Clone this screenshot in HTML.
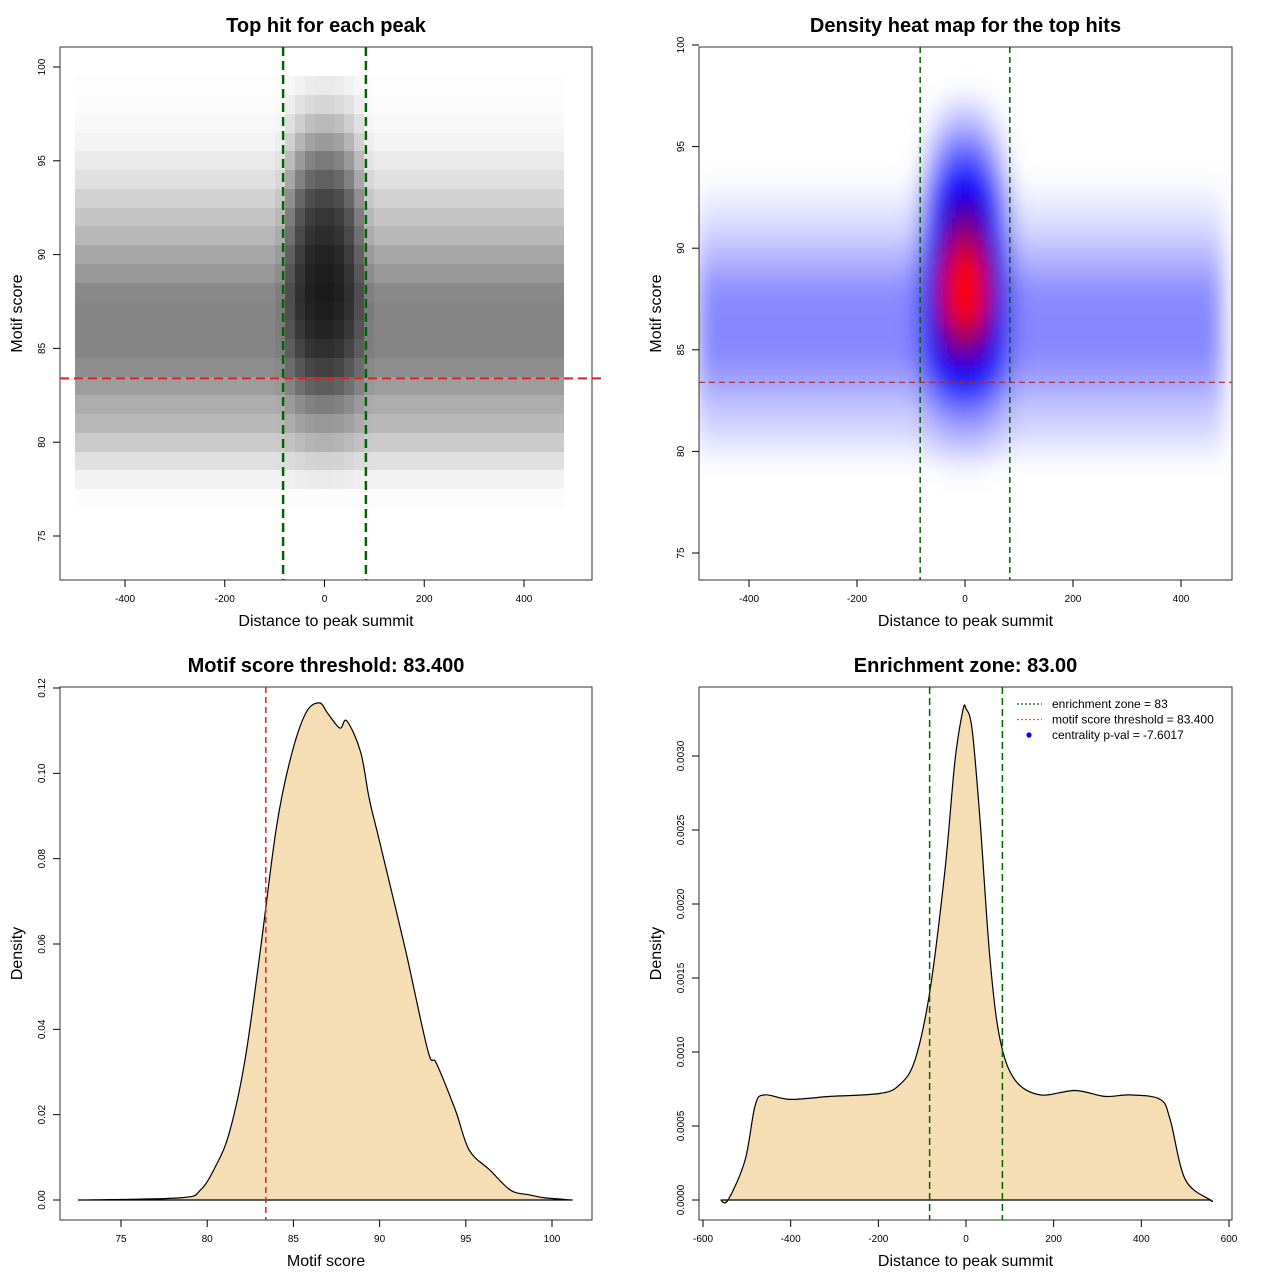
<!DOCTYPE html>
<html><head><meta charset="utf-8"><style>
body{margin:0;background:#fff}
svg text{font-family:"Liberation Sans",sans-serif}
</style></head><body>
<svg id="c" width="1280" height="1280" xmlns="http://www.w3.org/2000/svg">
<defs>
<filter id="blur" x="-10%" y="-10%" width="120%" height="120%"><feGaussianBlur stdDeviation="10"/></filter>
<clipPath id="clip2"><rect x="699" y="47" width="533" height="533"/></clipPath>
<clipPath id="clip1"><rect x="60" y="47" width="532" height="533"/></clipPath>
</defs>
</svg>
<script>
// ---------- data ----------
const scoreBins=[77,78,79,80,81,82,83,84,85,86,87,88,89,90,91,92,93,94,95,96,97,98,99];
const flankDensity=[0.02,0.08,0.2,0.35,0.5,0.6,0.75,0.9,1,1,1,0.95,0.8,0.65,0.5,0.4,0.3,0.2,0.13,0.07,0.04,0.02,0.01];
const centerExtra=[0,0.05,0.1,0.2,0.3,0.5,0.8,1.2,1.6,2,2.3,2.5,2.5,2.4,2.2,2,1.7,1.3,1,0.7,0.45,0.25,0.12];
const distBins=[-490,-470,-450,-430,-410,-390,-370,-350,-330,-310,-290,-270,-250,-230,-210,-190,-170,-150,-130,-110,-90,-70,-50,-30,-10,10,30,50,70,90,110,130,150,170,190,210,230,250,270,290,310,330,350,370,390,410,430,450,470];
const centerWeight=[0,0,0,0,0,0,0,0,0,0,0,0,0,0,0,0,0,0,0,0,0.05,0.35,0.65,0.9,1,1,0.9,0.65,0.35,0.05,0,0,0,0,0,0,0,0,0,0,0,0,0,0,0,0,0,0,0];
const zone=83, threshold=83.4;
const scoreX=[72.5,78.4,79.6,80.5,81.3,82.2,83.1,84.0,84.8,85.7,86.5,87.0,87.7,88.1,88.9,89.4,90.0,91.5,92.8,93.3,94.4,95.2,96.4,97.6,98.7,99.6,101.2];
const scoreY=[0,0.0005,0.0023,0.008,0.016,0.033,0.059,0.087,0.103,0.114,0.1165,0.114,0.1106,0.1123,0.105,0.094,0.084,0.0586,0.035,0.032,0.021,0.0117,0.007,0.0023,0.0012,0.0005,0];
const distX=[-560,-543,-504,-481,-459,-402,-310,-196,-151,-116,-82,-48,-25,-7,0,14,32,55,78,112,169,249,317,374,443,466,500,557,560];
const distY=[0,0,0.00027,0.00064,0.00071,0.00068,0.0007,0.00072,0.00078,0.00095,0.00142,0.00223,0.00297,0.00331,0.00332,0.00318,0.00257,0.00162,0.00108,0.00081,0.00071,0.00074,0.0007,0.00071,0.00068,0.00054,0.00014,0,0];
const ticks1X=[-400,-200,0,200,400], ticks1Y=[75,80,85,90,95,100];
const ticks3X=[75,80,85,90,95,100], ticks3Y=[0,0.02,0.04,0.06,0.08,0.1,0.12];
const ticks4X=[-600,-400,-200,0,200,400,600], ticks4Y=[0,0.0005,0.001,0.0015,0.002,0.0025,0.003];

// ---------- helpers ----------
const svg=document.getElementById('c'); const NS='http://www.w3.org/2000/svg';
function mk(tag,attrs,parent){const e=document.createElementNS(NS,tag);for(const k in attrs)e.setAttribute(k,attrs[k]);(parent||svg).appendChild(e);return e;}
function txt(s,x,y,size,attrs,parent){const e=mk('text',Object.assign({x:x,y:y,'font-size':size,'text-anchor':'middle'},attrs||{}),parent);e.textContent=s;return e;}
function lin(a,b,c,d){return v=>c+(v-a)*(d-c)/(b-a);}
const P1={x:lin(-400,400,125,524),y:lin(100,75,67,536),L:60,T:47,W:532,H:533};
const P2={x:lin(-400,400,749,1181),y:lin(100,75,45,553),L:699,T:47,W:533,H:533};
const P3={x:lin(75,100,121,552),y:lin(0,0.12,1200,688),L:60,T:687,W:532,H:533};
const P4={x:lin(-600,600,703,1229),y:lin(0,0.003,1200,756),L:699,T:687,W:533,H:533};
function density(i,j){return flankDensity[j]+centerWeight[i]*centerExtra[j];}
function smoothPath(pts){let d='M'+pts[0][0]+','+pts[0][1];
  for(let i=0;i<pts.length-1;i++){const p0=pts[Math.max(0,i-1)],p1=pts[i],p2=pts[i+1],p3=pts[Math.min(pts.length-1,i+2)];
    const c1x=p1[0]+(p2[0]-p0[0])/6,c1y=p1[1]+(p2[1]-p0[1])/6,c2x=p2[0]-(p3[0]-p1[0])/6,c2y=p2[1]-(p3[1]-p1[1])/6;
    d+=` C${c1x.toFixed(1)},${c1y.toFixed(1)} ${c2x.toFixed(1)},${c2y.toFixed(1)} ${p2[0].toFixed(1)},${p2[1].toFixed(1)}`;}
  return d+'Z';}

function frame(P,name,title,xlab,ylab,tx,ty,fx,fy){
  const g=mk('g',{});
  
  
  const t=txt(title,P.L+P.W/2,32,20,{'font-weight':'bold'},g);
  if(P.T>600)t.setAttribute('y',672);
  
  
  const bx=mk('rect',{x:P.L,y:P.T,width:P.W,height:P.H,fill:'none',stroke:'#333','stroke-width':1},g);
  
  
  const B=P.T+P.H;
  const xa=mk('g',{},g);
  
  
  tx.forEach(v=>{const X=P.x(v);mk('line',{x1:X,x2:X,y1:B,y2:B+7,stroke:'#000'},xa);txt(fx(v),X,B+22,10,{},xa);});
  const ya=mk('g',{},g);
  
  
  ty.forEach(v=>{const Y=P.y(v);mk('line',{x1:P.L-7,x2:P.L,y1:Y,y2:Y,stroke:'#000'},ya);txt(fy(v),P.L-15,Y,10,{transform:`rotate(-90 ${P.L-15} ${Y})`},ya);});
  const xl=txt(xlab,P.L+P.W/2,B+46,16,{},g);
  
  
  const yx=P.L-38,yy=P.T+P.H/2;
  const yl=txt(ylab,yx,yy,16,{transform:`rotate(-90 ${yx} ${yy})`},g);
  
  
  return g;
}
const id=v=>String(v);

// ---------- panel 1: scatter density ----------
const g1=mk('g',{'clip-path':'url(#clip1)','shape-rendering':'crispEdges'});


distBins.forEach((xv,i)=>{scoreBins.forEach((yv,j)=>{
  const d=density(i,j); const op=1-Math.exp(-d*0.65);
  const x0=Math.round(P1.x(xv-10)),x1=Math.round(P1.x(xv+10)),y0=Math.round(P1.y(yv+0.5)),y1=Math.round(P1.y(yv-0.5));
  const r=mk('rect',{x:x0,y:y0,width:x1-x0,height:y1-y0,fill:'#000','fill-opacity':op.toFixed(3)},g1);
  
  
});});
frame(P1,'scatter-panel','Top hit for each peak','Distance to peak summit','Motif score',ticks1X,ticks1Y,id,id);
[-zone,zone].forEach(v=>{const l=mk('line',{x1:P1.x(v),x2:P1.x(v),y1:P1.T,y2:P1.T+P1.H,stroke:'#006400','stroke-width':2.5,'stroke-dasharray':'9,5'});
  
  });
{const l=mk('line',{x1:P1.L,x2:P1.L+P1.W+10,y1:P1.y(threshold),y2:P1.y(threshold),stroke:'#dd2222','stroke-width':2,'stroke-dasharray':'9,5'});
  
  }

// ---------- panel 2: heatmap ----------
function heat(d){let r,g,b;
  if(d<2){const s=Math.max(0,Math.min(1,(d-0.25)/1.6));r=255*(1-s);g=255*(1-s);b=255;}
  else{const s=Math.min(1,(d-2)/1.3);r=255*s;g=0;b=255*(1-s);}
  return `rgb(${r|0},${g|0},${b|0})`;}
const g2o=mk('g',{'clip-path':'url(#clip2)'});
const g2=mk('g',{filter:'url(#blur)'},g2o);


mk('rect',{x:650,y:0,width:650,height:650,fill:'#fff'},g2);
distBins.forEach((xv,i)=>{scoreBins.forEach((yv,j)=>{
  const d=density(i,j);
  const x0=P2.x(xv-10),x1=P2.x(xv+10),y0=P2.y(yv+0.5),y1=P2.y(yv-0.5);
  const r=mk('rect',{x:x0,y:y0,width:x1-x0+0.5,height:y1-y0+0.5,fill:heat(d)},g2);
  
  
});});
frame(P2,'heatmap-panel','Density heat map for the top hits','Distance to peak summit','Motif score',ticks1X,ticks1Y,id,id);
[-zone,zone].forEach(v=>{const l=mk('line',{x1:P2.x(v),x2:P2.x(v),y1:P2.T,y2:P2.T+P2.H,stroke:'#006400','stroke-width':1.5,'stroke-dasharray':'6,4'});
  
  });
{const l=mk('line',{x1:P2.L,x2:P2.L+P2.W,y1:P2.y(threshold),y2:P2.y(threshold),stroke:'#b22222','stroke-width':1.2,'stroke-dasharray':'6,4'});
  
  }

// ---------- panel 3 ----------
frame(P3,'score-density-panel','Motif score threshold: 83.400','Motif score','Density',ticks3X,ticks3Y,id,v=>v.toFixed(2));
{const pts=scoreX.map((x,i)=>[P3.x(x),P3.y(scoreY[i])]);
 const p=mk('path',{d:smoothPath(pts),fill:'#f5deb3',stroke:'#000','stroke-width':1.2});
 
 
 const l=mk('line',{x1:P3.x(threshold),x2:P3.x(threshold),y1:P3.T,y2:P3.T+P3.H,stroke:'#e02020','stroke-width':1.5,'stroke-dasharray':'6,4'});
 
 }

// ---------- panel 4 ----------
frame(P4,'distance-density-panel','Enrichment zone: 83.00','Distance to peak summit','Density',ticks4X,ticks4Y,id,v=>v.toFixed(4));
{const pts=distX.map((x,i)=>[P4.x(x),P4.y(distY[i])]);
 const p=mk('path',{d:smoothPath(pts),fill:'#f5deb3',stroke:'#000','stroke-width':1.2});
 
 
 [-zone,zone].forEach(v=>{const l=mk('line',{x1:P4.x(v),x2:P4.x(v),y1:P4.T,y2:P4.T+P4.H,stroke:'#006400','stroke-width':1.5,'stroke-dasharray':'7,4'});
  
  });
 const lg=mk('g',{});
 
 
 const items=[['enrichment zone = 83','#006400'],['motif score threshold = 83.400','#ff4040'],['centrality p-val = -7.6017','#0000ff']];
 items.forEach((it,k)=>{const y=704+k*15.5;
   if(k<2)mk('line',{x1:1017,x2:1042,y1:y,y2:y,stroke:it[1],'stroke-width':1.2,'stroke-dasharray':'2,2'},lg);
   else mk('circle',{cx:1029,cy:y,r:2.6,fill:it[1]},lg);
   txt(it[0],1052,y+4,12,{'text-anchor':'start'},lg);});
}
</script>
</body></html>
